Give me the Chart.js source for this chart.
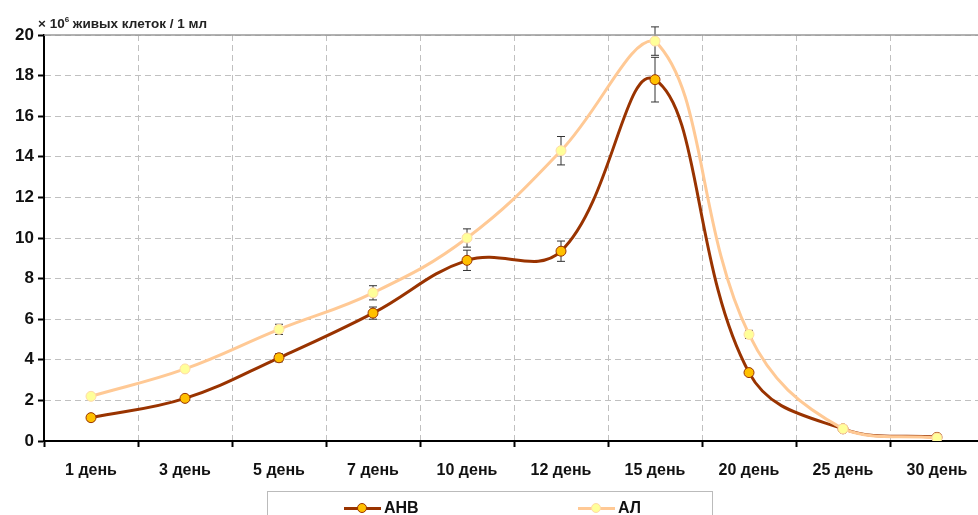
<!DOCTYPE html>
<html>
<head>
<meta charset="utf-8">
<script src="https://cdn.jsdelivr.net/npm/chart.js@4"></script>
<style>
  html, body { margin: 0; padding: 0; background: #fff; overflow: hidden; }
  body { width: 978px; height: 515px; position: relative; font-family: 'Liberation Sans', Arial, sans-serif; }
  #wrap { position: absolute; left: 0; top: 0; width: 990px; height: 515px; }
  #ytitle { position: absolute; left: 38px; top: 15px; font-size: 13.5px; font-weight: bold; color: #222; white-space: nowrap; }
  #ytitle sup { font-size: 8px; }
  #legend { position: absolute; left: 267px; top: 491px; width: 446px; height: 40px; border: 1px solid #bbb; box-sizing: border-box; }
  .item { position: absolute; top: 7px; height: 18px; font-size: 16px; font-weight: bold; color: #111; line-height: 18px; }
  .item .ln { position: absolute; left: 0; top: 8px; width: 37px; height: 3px; }
  .item .mk { position: absolute; left: 13px; top: 4px; width: 8px; height: 8px; border-radius: 50%; border: 1.5px solid; }
  .item .tx { position: absolute; left: 40px; top: 0; }
</style>
</head>
<body>
<div id="wrap"><canvas id="cellChart"></canvas></div>
<div id="ytitle">× 10<sup>6</sup> живых клеток / 1 мл</div>
<div id="legend">
  <div class="item" style="left:76px"><span class="ln" style="background:#993300"></span><span class="mk" style="background:#ffc000;border-color:#993300"></span><span class="tx">АНВ</span></div>
  <div class="item" style="left:310px"><span class="ln" style="background:#ffc995"></span><span class="mk" style="background:#ffff99;border-color:#ffd9a8"></span><span class="tx">АЛ</span></div>
</div>
<script>
const days = ['1 день', '3 день', '5 день', '7 день', '10 день', '12 день', '15 день', '20 день', '25 день', '30 день'];
const anvValues = [1.15, 2.1, 4.1, 6.3, 8.9, 9.35, 17.8, 3.37, 0.6, 0.18];
const anvErrors = [0.15, 0.1, 0.2, 0.3, 0.5, 0.5, 1.1, 0.1, 0, 0];
const alValues = [2.2, 3.55, 5.5, 7.3, 10.0, 14.3, 19.7, 5.25, 0.6, 0.15];
const alErrors = [0.1, 0.1, 0.25, 0.35, 0.45, 0.7, 0.7, 0.2, 0, 0];
const yTicks = [0, 2, 4, 6, 8, 10, 12, 14, 16, 18, 20];

// error bars + top frame line
const extras = {
    id: 'extras',
    beforeDatasetsDraw(chart) {
        const ctx = chart.ctx;
        const x = chart.scales.x, y = chart.scales.y;
        const sets = [[anvValues, anvErrors], [alValues, alErrors]];
        ctx.save();
        ctx.strokeStyle = '#333';
        ctx.lineWidth = 1;
        sets.forEach(([vals, errs]) => {
            vals.forEach((v, i) => {
                if (!errs[i]) return;
                const px = x.getPixelForValue(i);
                const top = y.getPixelForValue(v + errs[i]);
                const bot = y.getPixelForValue(v - errs[i]);
                ctx.beginPath();
                ctx.moveTo(px, top); ctx.lineTo(px, bot);
                ctx.moveTo(px - 4, top); ctx.lineTo(px + 4, top);
                ctx.moveTo(px - 4, bot); ctx.lineTo(px + 4, bot);
                ctx.stroke();
            });
        });
        ctx.restore();
    },
    afterDraw(chart) {
        const ctx = chart.ctx, a = chart.chartArea;
        ctx.save();
        ctx.strokeStyle = '#999';
        ctx.lineWidth = 1.5;
        ctx.beginPath();
        ctx.moveTo(a.left, a.top); ctx.lineTo(a.right, a.top);
        ctx.stroke();
        ctx.restore();
    }
};

const tickFont = { family: "'Liberation Sans', Arial, sans-serif", weight: 'bold' };

new Chart(document.getElementById('cellChart'), {
    type: 'line',
    data: {
        labels: days,
        datasets: [{
            label: 'АНВ',
            data: anvValues,
            borderColor: '#993300',
            borderWidth: 3,
            backgroundColor: '#ffc000',
            pointBackgroundColor: '#ffc000',
            pointBorderColor: '#993300',
            pointBorderWidth: 1,
            pointRadius: 5,
            tension: 0.4,
            order: 2
        }, {
            label: 'АЛ',
            data: alValues,
            borderColor: '#ffc995',
            borderWidth: 3,
            backgroundColor: '#ffff99',
            pointBackgroundColor: '#ffff99',
            pointBorderColor: '#ffd9a8',
            pointBorderWidth: 1,
            pointRadius: 5,
            tension: 0.4,
            order: 1
        }]
    },
    options: {
        responsive: true,
        maintainAspectRatio: false,
        animation: false,
        layout: { padding: { top: 35, right: 3, left: 0, bottom: 0 } },
        plugins: { legend: { display: false }, tooltip: { enabled: false } },
        scales: {
            x: {
                offset: true,
                grid: {
                    offset: true,
                    color: '#c0c0c0',
                    tickColor: '#000',
                    tickBorderDash: [],
                    tickLength: 6,
                    tickWidth: 2
                },
                border: { color: '#000', width: 2, dash: [6, 4] },
                ticks: { color: '#111', font: { ...tickFont, size: 16 }, padding: 14, maxRotation: 0, autoSkip: false },
                afterFit(scale) { scale.height = 74; }
            },
            y: {
                min: 0,
                max: 20,
                afterBuildTicks(scale) { scale.ticks = yTicks.map(v => ({ value: v })); },
                grid: {
                    color: '#c0c0c0',
                    tickColor: '#000',
                    tickBorderDash: [],
                    tickLength: 6,
                    tickWidth: 2
                },
                border: { color: '#000', width: 2, dash: [6, 4] },
                ticks: { color: '#111', font: { ...tickFont, size: 17 }, padding: 4 },
                afterFit(scale) { scale.width = 44; }
            }
        }
    },
    plugins: [extras]
});
</script>
</body>
</html>
